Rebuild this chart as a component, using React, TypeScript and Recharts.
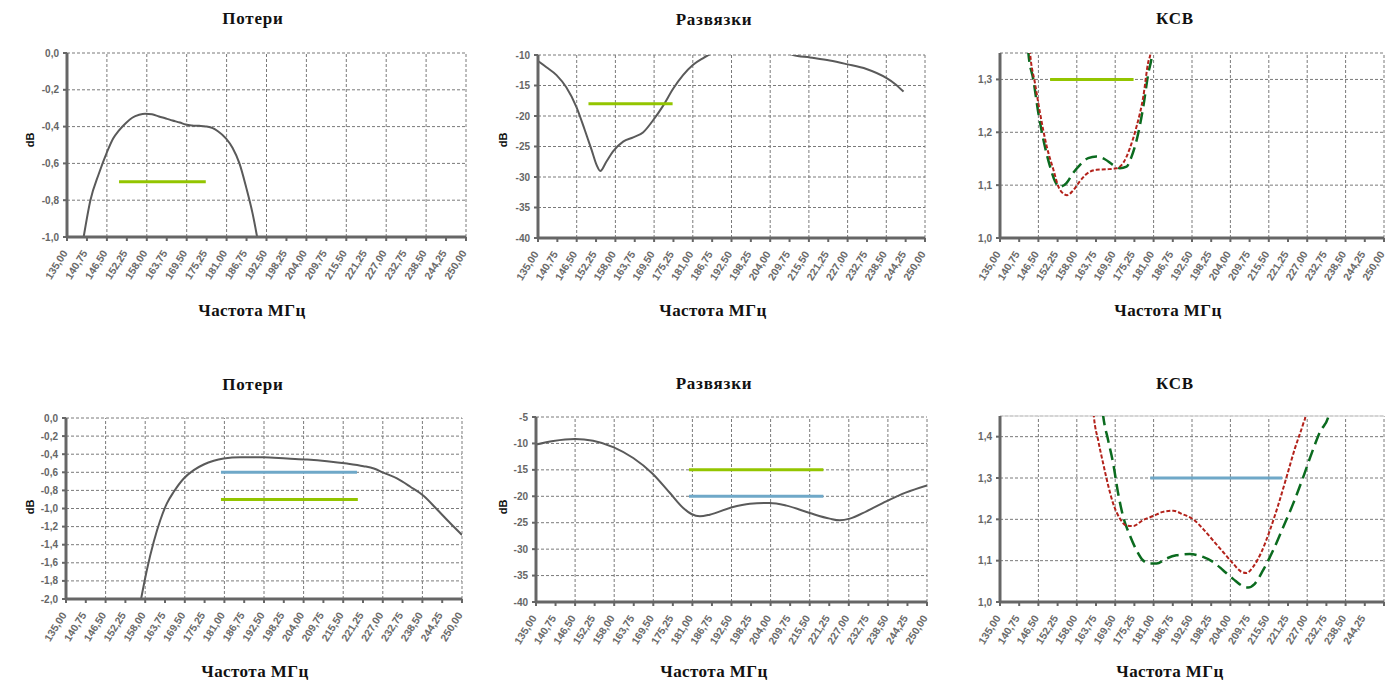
import React from 'react';
import { LineChart, Line, XAxis, YAxis, CartesianGrid, ReferenceLine } from 'recharts';

type P = [number, number];

const freqTicks = [135, 140.75, 146.5, 152.25, 158, 163.75, 169.5, 175.25, 181, 186.75, 192.5, 198.25, 204, 209.75, 215.5, 221.25, 227, 232.75, 238.5, 244.25, 250];
const gridFreqs = [146.5, 158, 169.5, 181, 192.5, 204, 215.5, 227, 238.5, 250];

const lossTicksA = [0, -0.2, -0.4, -0.6, -0.8, -1.0];
const isoTicksA = [-10, -15, -20, -25, -30, -35, -40];
const ksvTicksA = [1.0, 1.1, 1.2, 1.3];
const lossTicksB = [0, -0.2, -0.4, -0.6, -0.8, -1.0, -1.2, -1.4, -1.6, -1.8, -2.0];
const isoTicksB = [-5, -10, -15, -20, -25, -30, -35, -40];
const ksvTicksB = [1.0, 1.1, 1.2, 1.3, 1.4];

// Top row
const loss1: P[] = [[139.8, -1.0], [141.75, -0.8], [144.2, -0.655], [146.5, -0.54], [148.3, -0.465], [150, -0.42], [152, -0.38], [153.8, -0.352], [155.8, -0.336], [157.5, -0.33], [159.5, -0.333], [161.5, -0.345], [163.5, -0.356], [165.4, -0.367], [167.5, -0.378], [169.2, -0.389], [171, -0.394], [173.1, -0.396], [175, -0.399], [177, -0.408], [178.5, -0.425], [180.8, -0.464], [182.7, -0.515], [184.7, -0.6], [186.6, -0.727], [188.5, -0.873], [189.8, -1.0]];
const lossSpec1: P[] = [[150, -0.7], [175, -0.7]];

const iso1: P[] = [[135, -11.0], [137.5, -12], [140.5, -13.3], [143.4, -15.3], [146.4, -18.5], [148.9, -22.3], [150.9, -25.5], [152.4, -28.0], [153.5, -29.0], [155.3, -27.5], [157.3, -25.8], [160.3, -24.2], [163.3, -23.5], [166.2, -22.7], [169.2, -20.7], [172.2, -18.3], [175.2, -15.5], [178.1, -13.3], [181.1, -11.6], [184.1, -10.5], [186, -9.9], [191, -8.6], [198, -8.0], [205, -8.6], [210.8, -10.0], [215.8, -10.4], [221.7, -10.9], [226.7, -11.5], [232.6, -12.3], [238.6, -13.8], [241, -14.7], [243.6, -16.0]];
const isoSpec1: P[] = [[150, -18], [175, -18]];

const ksvRed1: P[] = [[143.5, 1.39], [144, 1.35], [145.5, 1.292], [147, 1.236], [149, 1.173], [151, 1.129], [152.5, 1.097], [154, 1.084], [155.1, 1.081], [156.9, 1.09], [158.9, 1.107], [160.9, 1.121], [163.9, 1.129], [166.9, 1.13], [169.9, 1.132], [171.9, 1.142], [173.9, 1.17], [175.9, 1.211], [177.9, 1.267], [179.4, 1.333], [180.1, 1.35], [180.6, 1.38]];
const ksvGreen1: P[] = [[143, 1.39], [143.5, 1.35], [145, 1.299], [146.5, 1.236], [148, 1.186], [150, 1.135], [151.5, 1.107], [152.9, 1.097], [154.9, 1.104], [156.9, 1.123], [158.9, 1.138], [161.4, 1.151], [163.9, 1.154], [166.4, 1.149], [168.9, 1.138], [170.9, 1.132], [172.9, 1.135], [174.4, 1.154], [176.4, 1.198], [177.9, 1.248], [179.4, 1.311], [180.6, 1.35], [181.2, 1.39]];
const ksvSpec1: P[] = [[150, 1.3], [175, 1.3]];

// Bottom row
const loss2: P[] = [[156.8, -2.0], [158.5, -1.677], [160.5, -1.365], [162.4, -1.127], [164.3, -0.943], [166.3, -0.815], [169.2, -0.668], [172.1, -0.576], [175, -0.514], [177.9, -0.473], [180.8, -0.448], [185.6, -0.433], [192.4, -0.433], [199.2, -0.448], [205, -0.459], [210.8, -0.477], [216.6, -0.503], [221.4, -0.532], [224.4, -0.558], [227.3, -0.606], [231.1, -0.668], [235, -0.76], [238.9, -0.862], [242.7, -1.009], [246.6, -1.163], [250, -1.292]];
const lossBlue2: P[] = [[180, -0.6], [219.5, -0.6]];
const lossGreen2: P[] = [[180, -0.9], [219.75, -0.9]];

const iso2: P[] = [[135, -10.23], [140.1, -9.54], [146.5, -9.16], [151.8, -9.48], [157.9, -10.74], [163.6, -12.76], [169.3, -15.72], [174.4, -19.38], [178.3, -22.2], [180.7, -23.35], [183.2, -23.8], [186.1, -23.48], [192, -22.2], [197.9, -21.4], [203.8, -21.27], [208.7, -21.77], [215.5, -23.16], [221.4, -24.23], [224.3, -24.55], [227.3, -24.23], [232.2, -22.84], [238, -20.95], [243.9, -19.25], [250, -17.93]];
const isoGreen2: P[] = [[180, -15], [219.5, -15]];
const isoBlue2: P[] = [[180, -20], [219.5, -20]];

const ksvRed2: P[] = [[162.6, 1.5], [163.1, 1.45], [164.4, 1.391], [165.9, 1.335], [167.4, 1.282], [168.9, 1.238], [170.9, 1.202], [172.9, 1.185], [174.9, 1.184], [177.8, 1.198], [180.9, 1.208], [183.8, 1.218], [186.9, 1.221], [189.8, 1.212], [192.9, 1.2], [195.8, 1.177], [198.8, 1.149], [201.8, 1.121], [204.8, 1.093], [207.3, 1.073], [208.8, 1.07], [210.8, 1.085], [213.3, 1.121], [215.8, 1.173], [218.3, 1.234], [220.8, 1.302], [223.3, 1.371], [225.8, 1.431], [226.5, 1.45], [227.2, 1.5]];
const ksvGreen2: P[] = [[165.2, 1.5], [165.9, 1.45], [167.4, 1.391], [168.9, 1.335], [170.4, 1.262], [171.9, 1.206], [173.9, 1.161], [175.9, 1.125], [177.8, 1.101], [179.9, 1.093], [181.9, 1.093], [184.8, 1.105], [187.8, 1.113], [191.8, 1.116], [195.8, 1.109], [198.8, 1.097], [201.8, 1.077], [204.8, 1.056], [207.8, 1.038], [209.3, 1.035], [211.3, 1.044], [213.8, 1.077], [216.8, 1.125], [219.8, 1.181], [222.8, 1.238], [225.8, 1.302], [228.3, 1.359], [230.8, 1.411], [233.4, 1.45], [234.5, 1.5]];
const ksvBlue2: P[] = [[180, 1.3], [219.5, 1.3]];

const pts = (a: P[]) => a.map(([f, v]) => ({ f, v }));

const GRAY = '#5a5a5a';
const LIME = '#93c500';
const BLUE = '#6fa8c8';
const RED = '#b3221b';
const DGREEN = '#0b6b1f';
const AXIS = '#666666';
const GRID = '#7a7a7a';
const TICKFONT = '"Liberation Sans", Arial, sans-serif';
const SERIF = '"Liberation Serif", "Times New Roman", serif';

type S = { data: P[]; color: string; width: number; dash?: string; linear?: boolean };

const XTick = (props: any) => {
  const { x, y, payload, hideLast } = props;
  if (hideLast && payload.value === 250) return null;
  const ax = x + 1;
  const ay = y + 10;
  return (
    <text x={ax} y={ay} transform={`rotate(-58 ${ax} ${ay})`} textAnchor="end" fontFamily={TICKFONT} fontWeight="bold" fontSize={10.5} fill="#6a6a6a">
      {payload.value.toFixed(2).replace('.', ',')}
    </text>
  );
};

function Panel(props: {
  x0: number; x1: number; y0: number; y1: number;
  domain: [number, number]; yTicks: number[]; digits: number;
  series: S[]; hideLast?: boolean; topLine?: number;
}) {
  const { x0, x1, y0, y1, domain, yTicks, digits, series, hideLast, topLine } = props;
  const L = 62, T = 8, R = 16, B = 70;
  const w = x1 - x0 + L + R;
  const h = y1 - y0 + T + B;
  return (
    <div style={{ position: 'absolute', left: x0 - L, top: y0 - T, width: w, height: h }}>
      <LineChart width={w} height={h} margin={{ top: T, right: R, bottom: 0, left: 0 }}>
        <CartesianGrid vertical={false} stroke={GRID} strokeDasharray="3 2" />
        {gridFreqs.map((f) => (
          <ReferenceLine key={f} x={f} stroke={GRID} strokeDasharray="3 2" />
        ))}
        {topLine !== undefined && <ReferenceLine y={topLine} stroke="#dddddd" strokeWidth={1.5} />}
        <XAxis
          type="number"
          dataKey="f"
          domain={[135, 250]}
          ticks={freqTicks}
          interval={0}
          height={B}
          allowDataOverflow
          axisLine={{ stroke: AXIS, strokeWidth: 3 }}
          tickLine={{ stroke: AXIS, strokeWidth: 2 }}
          tickSize={4}
          tick={<XTick hideLast={hideLast} />}
        />
        <YAxis
          type="number"
          domain={domain}
          ticks={yTicks}
          interval={0}
          width={L}
          allowDataOverflow
          axisLine={{ stroke: AXIS, strokeWidth: 3 }}
          tickLine={{ stroke: AXIS, strokeWidth: 2 }}
          tickSize={4}
          tickMargin={4}
          tick={{ fontFamily: TICKFONT, fontWeight: 'bold', fontSize: 10, fill: '#666' }}
          tickFormatter={(v: number) => v.toFixed(digits).replace('.', ',')}
        />
        {series.map((s, i) => (
          <Line
            key={i}
            data={pts(s.data)}
            dataKey="v"
            type={s.linear ? 'linear' : 'monotone'}
            stroke={s.color}
            strokeWidth={s.width}
            strokeDasharray={s.dash}
            dot={false}
            activeDot={false}
            isAnimationActive={false}
          />
        ))}
      </LineChart>
    </div>
  );
}

const Title = ({ cx, cy, text, size = 17, ls = 0.8 }: { cx: number; cy: number; text: string; size?: number; ls?: number }) => (
  <div style={{ position: 'absolute', left: cx - 150, top: cy - 11, width: 300, height: 22, lineHeight: '22px', textAlign: 'center', fontFamily: SERIF, fontWeight: 'bold', fontSize: size, letterSpacing: ls, color: '#111' }}>
    {text}
  </div>
);

const DB = ({ cx, cy }: { cx: number; cy: number }) => (
  <div style={{ position: 'absolute', left: cx - 15, top: cy - 7, width: 30, height: 14, lineHeight: '14px', textAlign: 'center', fontFamily: TICKFONT, fontWeight: 'bold', fontSize: 11, color: '#111', transform: 'rotate(-90deg)' }}>
    dB
  </div>
);

const XL = 'Частота МГц';

export default function App() {
  return (
    <div style={{ position: 'absolute', left: 0, top: 0, width: 1400, height: 683, background: '#fff', overflow: 'hidden' }}>
      <Title cx={253} cy={19} text="Потери" />
      <Title cx={714} cy={20} text="Развязки" />
      <Title cx={1175} cy={19} text="КСВ" />
      <Title cx={253} cy={385} text="Потери" />
      <Title cx={714} cy={384} text="Развязки" />
      <Title cx={1175} cy={384} text="КСВ" />

      <Title cx={252} cy={311} text={XL} ls={0.4} />
      <Title cx={713} cy={311} text={XL} ls={0.4} />
      <Title cx={1168} cy={311} text={XL} ls={0.4} />
      <Title cx={255} cy={672} text={XL} ls={0.4} />
      <Title cx={714} cy={672} text={XL} ls={0.4} />
      <Title cx={1170} cy={672} text={XL} ls={0.4} />

      <DB cx={30} cy={140} />
      <DB cx={503} cy={140} />
      <DB cx={30} cy={507} />
      <DB cx={503} cy={507} />

      <Panel x0={67} x1={466} y0={53} y1={237} domain={[-1, 0]} yTicks={lossTicksA} digits={1}
        series={[
          { data: loss1, color: GRAY, width: 2 },
          { data: lossSpec1, color: LIME, width: 3, linear: true },
        ]} />
      <Panel x0={538} x1={925} y0={55} y1={238} domain={[-40, -10]} yTicks={isoTicksA} digits={0}
        series={[
          { data: iso1, color: GRAY, width: 2 },
          { data: isoSpec1, color: LIME, width: 3, linear: true },
        ]} />
      <Panel x0={1000} x1={1384} y0={53} y1={238} domain={[1.0, 1.35]} yTicks={ksvTicksA} digits={1}
        series={[
          { data: ksvSpec1, color: LIME, width: 3, linear: true },
          { data: ksvGreen1, color: DGREEN, width: 2.5, dash: '12 6' },
          { data: ksvRed1, color: RED, width: 2, dash: '4 2' },
        ]} />

      <Panel x0={66} x1={462} y0={418} y1={599} domain={[-2, 0]} yTicks={lossTicksB} digits={1}
        series={[
          { data: loss2, color: GRAY, width: 2 },
          { data: lossBlue2, color: BLUE, width: 3, linear: true },
          { data: lossGreen2, color: LIME, width: 3, linear: true },
        ]} />
      <Panel x0={536} x1={927} y0={417} y1={602} domain={[-40, -5]} yTicks={isoTicksB} digits={0}
        series={[
          { data: iso2, color: GRAY, width: 2 },
          { data: isoGreen2, color: LIME, width: 3, linear: true },
          { data: isoBlue2, color: BLUE, width: 3, linear: true },
        ]} />
      <Panel x0={1000} x1={1384} y0={416} y1={602} domain={[1.0, 1.45]} yTicks={ksvTicksB} digits={1} hideLast topLine={1.45}
        series={[
          { data: ksvBlue2, color: BLUE, width: 3, linear: true },
          { data: ksvGreen2, color: DGREEN, width: 2.5, dash: '12 6' },
          { data: ksvRed2, color: RED, width: 2, dash: '4 2' },
        ]} />
    </div>
  );
}
